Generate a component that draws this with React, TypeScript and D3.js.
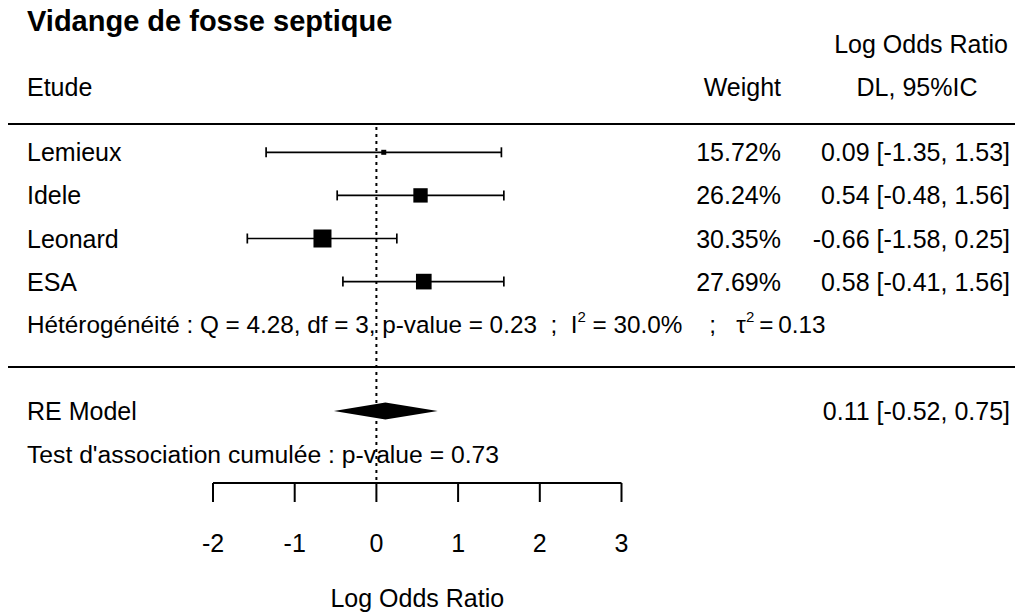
import React from "react";
import * as d3 from "d3";

// Study-level data (log odds ratios, DerSimonian-Laird weights)
const studies = ["Lemieux", "Idele", "Leonard", "ESA"];
const weights = [15.72, 26.24, 30.35, 27.69];
const estimates = [0.09, 0.54, -0.66, 0.58];
const ciLower = [-1.35, -0.48, -1.58, -0.41];
const ciUpper = [1.53, 1.56, 0.25, 1.56];

// Random-effects summary
const summaryLabel = "RE Model";
const summaryEstimate = 0.11;
const summaryLower = -0.52;
const summaryUpper = 0.75;

// Heterogeneity and association statistics
const hetQ = 4.28;
const hetDf = 3;
const hetP = 0.23;
const hetI2 = 30.0;
const hetTau2 = 0.13;
const assocP = 0.73;

const axisTicks = [-2, -1, 0, 1, 2, 3];

const W = 1023;
const H = 616;
const FONT = "'Liberation Sans', Arial, sans-serif";
const FS = 25;

// plain hyphen-minus, two decimals
const fmt2 = (v: number) => v.toFixed(2);

export default function App() {
  const x = d3.scaleLinear().domain([-2, 3]).range([213, 621.5]);
  // row index -> vertical centre
  const row = d3.scaleLinear().domain([0, 1]).range([152.3, 195.4]);
  const psize = d3
    .scaleLinear()
    .domain(d3.extent(weights) as [number, number])
    .range([5, 18]);

  const rows = studies.map((s, i) => ({
    name: s,
    w: weights[i],
    est: estimates[i],
    lo: ciLower[i],
    hi: ciUpper[i],
    y: row(i),
  }));

  const hetY = row(4);
  const sepY = row(4.98);
  const reY = row(6);
  const testY = row(7);
  const axisY = 483;

  const labelX = 27;
  const weightX = 781;
  const ciX = 1010;
  const dy = "0.36em";

  const diamond = [
    [x(summaryLower), reY],
    [x(summaryEstimate), reY - 8.5],
    [x(summaryUpper), reY],
    [x(summaryEstimate), reY + 8.5],
  ];

  const ciText = (e: number, l: number, h: number) =>
    `${fmt2(e)} [${fmt2(l)}, ${fmt2(h)}]`;

  return (
    <svg
      width={W}
      height={H}
      style={{ position: "absolute", left: 0, top: 0, background: "#fff" }}
      fontFamily={FONT}
      fontSize={FS}
      fill="#000"
    >
      <rect width={W} height={H} fill="#fff" />
      {/* Title and column headers */}
      <text x={labelX} y={31} fontWeight="bold" fontSize={29}>
        Vidange de fosse septique
      </text>
      <text x={921} y={53} textAnchor="middle">
        Log Odds Ratio
      </text>
      <text x={labelX} y={96}>
        Etude
      </text>
      <text x={weightX} y={96} textAnchor="end">
        Weight
      </text>
      <text x={917} y={96} textAnchor="middle">
        DL, 95%IC
      </text>

      {/* Separators */}
      <line x1={8} x2={1015} y1={124} y2={124} stroke="#000" strokeWidth={2} />
      <line x1={8} x2={1015} y1={sepY} y2={sepY} stroke="#000" strokeWidth={2} />

      {/* Reference line at zero */}
      <line
        x1={x(0)}
        x2={x(0)}
        y1={127}
        y2={axisY}
        stroke="#000"
        strokeWidth={2}
        strokeDasharray="3 4"
      />

      {/* Study rows */}
      {rows.map((r) => (
        <g key={r.name}>
          <text x={labelX} y={r.y} dy={dy}>
            {r.name}
          </text>
          <line x1={x(r.lo)} x2={x(r.hi)} y1={r.y} y2={r.y} stroke="#000" strokeWidth={1.7} />
          <line x1={x(r.lo)} x2={x(r.lo)} y1={r.y - 5} y2={r.y + 5} stroke="#000" strokeWidth={1.7} />
          <line x1={x(r.hi)} x2={x(r.hi)} y1={r.y - 5} y2={r.y + 5} stroke="#000" strokeWidth={1.7} />
          <rect
            x={x(r.est) - psize(r.w) / 2}
            y={r.y - psize(r.w) / 2}
            width={psize(r.w)}
            height={psize(r.w)}
            fill="#000"
          />
          <text x={weightX} y={r.y} dy={dy} textAnchor="end">
            {`${fmt2(r.w)}%`}
          </text>
          <text x={ciX} y={r.y} dy={dy} textAnchor="end">
            {ciText(r.est, r.lo, r.hi)}
          </text>
        </g>
      ))}

      {/* Heterogeneity statistics */}
      <text x={labelX} y={hetY} dy={dy} fontSize={24.3} style={{ whiteSpace: "pre" }}>
        <tspan>{`Hétérogénéité : Q = ${fmt2(hetQ)}, df = ${hetDf}, p-value = ${fmt2(hetP)}  ;  I`}</tspan>
        <tspan fontSize={15} dy={-11}>2</tspan>
        <tspan dy={11}>{` = ${hetI2.toFixed(1)}%    ;   \u03C4`}</tspan>
        <tspan fontSize={15} dy={-11}>2</tspan>
        <tspan dy={11}>{`\u2009=\u2009${fmt2(hetTau2)}`}</tspan>
      </text>

      {/* Summary */}
      <text x={labelX} y={reY} dy={dy}>
        {summaryLabel}
      </text>
      <polygon points={diamond.map((p) => p.join(",")).join(" ")} fill="#000" />
      <text x={ciX} y={reY} dy={dy} textAnchor="end">
        {ciText(summaryEstimate, summaryLower, summaryUpper)}
      </text>
      <text x={labelX} y={testY} dy={dy} fontSize={24.7}>
        {`Test d'association cumulée : p-value = ${fmt2(assocP)}`}
      </text>

      {/* X axis */}
      <line x1={x(-2)} x2={x(3)} y1={axisY} y2={axisY} stroke="#000" strokeWidth={2} />
      {axisTicks.map((t) => (
        <g key={t}>
          <line x1={x(t)} x2={x(t)} y1={axisY} y2={axisY + 19} stroke="#000" strokeWidth={2} />
          <text x={x(t)} y={552} textAnchor="middle">
            {t}
          </text>
        </g>
      ))}
      <text x={(x(-2) + x(3)) / 2} y={607} textAnchor="middle">
        Log Odds Ratio
      </text>
    </svg>
  );
}
